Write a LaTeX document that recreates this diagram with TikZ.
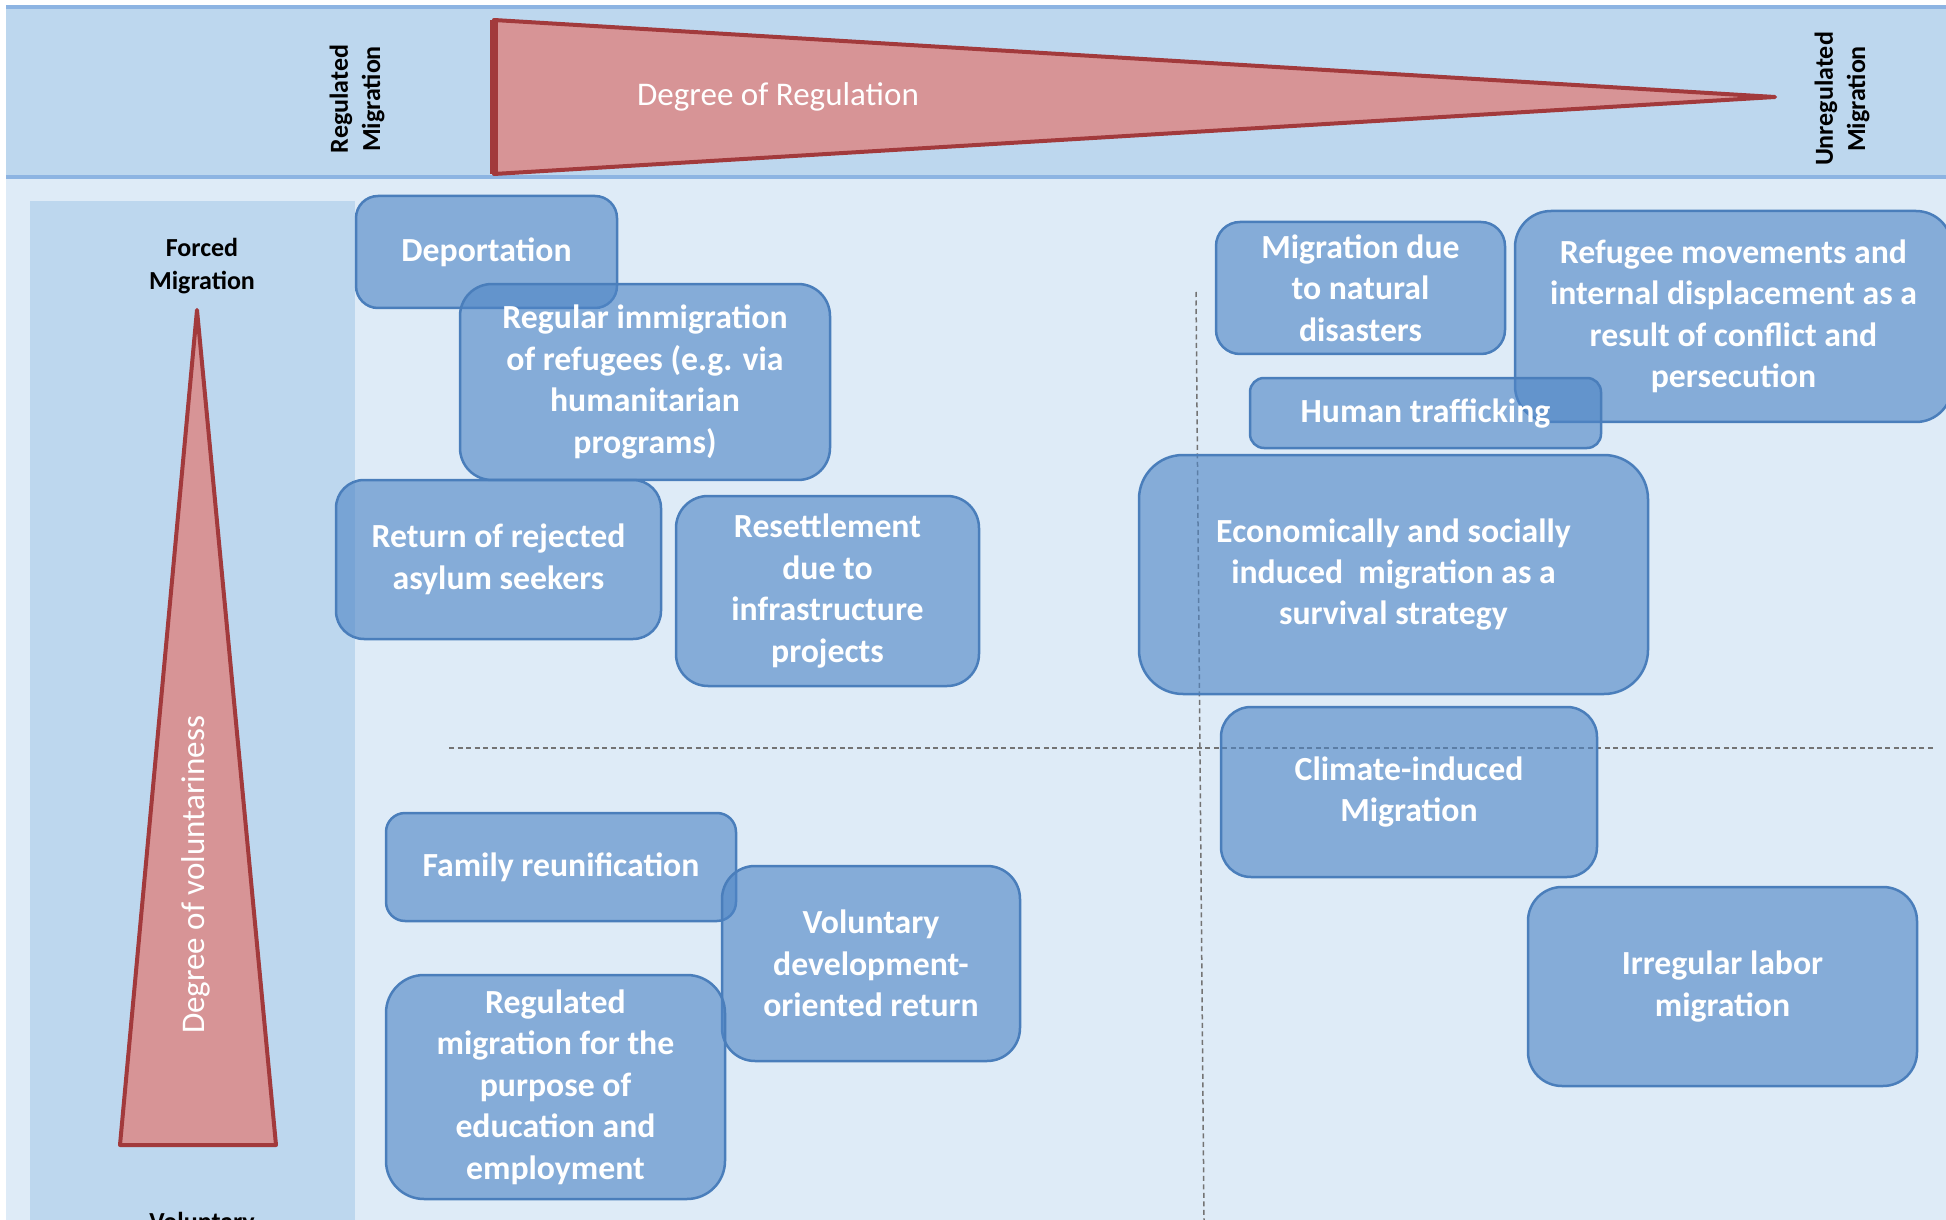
\documentclass[tikz,border=0pt]{standalone}
\usepackage{fontspec}
\setmainfont{Carlito}

\definecolor{bandBlue}{HTML}{BDD7EE}
\definecolor{paleBlue}{HTML}{DEEBF7}
\definecolor{bandLine}{HTML}{8DB4E2}
\definecolor{boxFill}{HTML}{4F86C6}
\definecolor{boxLine}{HTML}{4A7EBB}
\definecolor{wedgeFill}{HTML}{D79496}
\definecolor{wedgeLine}{HTML}{A23A3C}

\newcommand{\boxFont}{\fontsize{9.6}{11.8}\selectfont\bfseries}
\newcommand{\axisFont}{\fontsize{7.4}{9.2}\selectfont\bfseries}
\newcommand{\wedgeFont}{\fontsize{9.4}{11.5}\selectfont}

\tikzset{
    migbox/.style={draw=boxLine, line width=0.25mm, fill=boxFill, fill opacity=0.62,
        text opacity=1, text=white, font=\boxFont, align=center, inner sep=0pt},
    wedge/.style={fill=wedgeFill, draw=wedgeLine, line width=0.4mm, line join=round},
    axislabel/.style={font=\axisFont, align=center, inner sep=0pt},
    quadrant/.style={draw=black!55, line width=0.15mm, dash pattern=on 0.5mm off 0.35mm},
}

\begin{document}
\begin{tikzpicture}[x=0.1mm, y=-0.1mm]
        \pgfmathsetmacro{\sizeX}{1946}
        \pgfmathsetmacro{\sizeY}{1220}
        \pgfmathsetmacro{\bandTop}{7}
        \pgfmathsetmacro{\bandBottom}{177}

        \useasboundingbox (0, 0) rectangle (\sizeX, \sizeY);
        \clip (0, 0) rectangle (\sizeX, \sizeY);

        \fill[white] (0, 0) rectangle (\sizeX, \sizeY);
        \fill[paleBlue] (6, \bandBottom) rectangle (\sizeX, \sizeY);
        \fill[bandBlue] (6, \bandTop) rectangle (\sizeX, \bandBottom);
        \draw[bandLine, line width=0.35mm] (6, \bandTop) -- (\sizeX, \bandTop);
        \draw[bandLine, line width=0.35mm] (6, \bandBottom) -- (\sizeX, \bandBottom);
        \fill[bandBlue] (30, 201) rectangle (355, \sizeY);

        % degree of regulation
        \draw[wedge] (494, 20) -- (1775, 97) -- (494, 174) -- cycle;
        \draw[wedgeLine, line width=0.8mm] (494, 20) -- (494, 174);
        \node[font=\wedgeFont, text=white, inner sep=0pt] (regulation) at (778, 97) {Degree of Regulation};
        \node[axislabel, rotate=90] (regulated) at (357, 99) {Regulated\\Migration};
        \node[axislabel, rotate=90] (unregulated) at (1842, 99) {Unregulated\\Migration};

        % degree of voluntariness
        \draw[wedge] (197, 310) -- (276, 1145) -- (120, 1145) -- cycle;
        \node[font=\wedgeFont, text=white, inner sep=0pt, rotate=90] (voluntariness) at (196, 875) {Degree of voluntariness};
        \node[axislabel] (forced) at (202, 266) {Forced\\Migration};
        \node[axislabel, anchor=north] (voluntary) at (202, 1212) {Voluntary\\Migration};

        \draw[quadrant] (449, 748) -- (1936, 748);
        \draw[quadrant] (1196, 292) -- (1204, \sizeY);

        \node[migbox, minimum width=26.1mm, minimum height=11.2mm, rounded corners=2.2mm]
            (deport) at (486.5, 252) {Deportation};
        \node[migbox, minimum width=37.0mm, minimum height=19.6mm, rounded corners=3.2mm]
            (refugeeprog) at (645, 382) {Regular immigration\\of refugees (e.g. via\\humanitarian\\programs)};
        \node[migbox, minimum width=32.5mm, minimum height=15.9mm, rounded corners=2.8mm]
            (rejected) at (498.5, 559.5) {Return of rejected\\asylum seekers};
        \node[migbox, minimum width=30.3mm, minimum height=19.0mm, rounded corners=3.2mm]
            (resettle) at (827.5, 591) {Resettlement\\due to\\infrastructure\\projects};
        \node[migbox, minimum width=28.9mm, minimum height=13.2mm, rounded corners=2.4mm]
            (disaster) at (1360.5, 288) {Migration due\\to natural\\disasters};
        \node[migbox, minimum width=43.7mm, minimum height=21.1mm, rounded corners=3.6mm]
            (conflict) at (1733.5, 316.5) {Refugee movements and\\internal displacement as a\\result of conflict and\\persecution};
        \node[migbox, minimum width=35.1mm, minimum height=7.0mm, rounded corners=1.4mm]
            (trafficking) at (1425.5, 413) {Human trafficking};
        \node[migbox, minimum width=50.9mm, minimum height=23.9mm, rounded corners=4.4mm]
            (survival) at (1393.5, 574.5) {Economically and socially\\induced\ \ migration as a\\survival strategy};
        \node[migbox, minimum width=37.6mm, minimum height=17.0mm, rounded corners=3.0mm]
            (climate) at (1409, 792) {Climate-induced\\Migration};
        \node[migbox, minimum width=35.0mm, minimum height=10.8mm, rounded corners=1.9mm]
            (family) at (561, 867) {Family reunification};
        \node[migbox, minimum width=29.8mm, minimum height=19.5mm, rounded corners=3.3mm]
            (devreturn) at (871, 963.5) {Voluntary\\development-\\oriented return};
        \node[migbox, minimum width=33.9mm, minimum height=22.4mm, rounded corners=3.8mm]
            (education) at (555.5, 1087) {Regulated\\migration for the\\purpose of\\education and\\employment};
        \node[migbox, minimum width=38.9mm, minimum height=19.9mm, rounded corners=3.4mm]
            (irregular) at (1722.5, 986.5) {Irregular labor\\migration};
    \end{tikzpicture}
\end{document}
